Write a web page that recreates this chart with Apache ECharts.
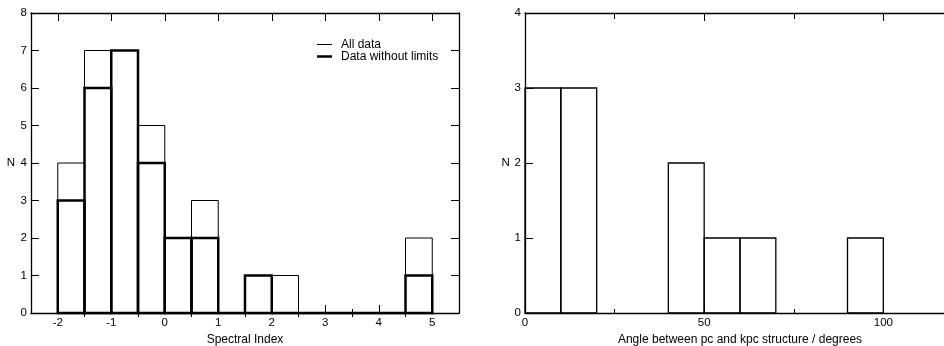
<!DOCTYPE html>
<html>
<head>
<meta charset="utf-8">
<script src="https://cdn.jsdelivr.net/npm/echarts@6/dist/echarts.min.js"></script>
<style>
  html, body { margin: 0; padding: 0; background: #fff; }
  #chart { width: 944px; height: 346px; }
</style>
</head>
<body>
<div id="chart"></div>
<script>
// left panel: spectral index histogram, bins 0.5 wide
const spectralBinStarts = [-2, -1.5, -1, -0.5, 0, 0.5, 1, 1.5, 2, 2.5, 3, 3.5, 4, 4.5];
const allData = [4, 7, 7, 5, 2, 3, 0, 1, 1, 0, 0, 0, 0, 2];
const dataWithoutLimits = [3, 6, 7, 4, 2, 2, 0, 1, 0, 0, 0, 0, 0, 1];
const spectralTicks = [-2, -1, 0, 1, 2, 3, 4, 5];
const spectralMinorTicks = [-1.5, -0.5, 0.5, 1.5, 2.5, 3.5, 4.5];

// right panel: angle histogram, bins 10 degrees wide
const angleBinStarts = [0, 10, 40, 50, 60, 90];
const angleCounts = [3, 3, 2, 1, 1, 1];

const FONT = 'Liberation Sans, Arial, sans-serif';
const txt = { color: '#000', fontFamily: FONT, fontSize: 11.5 };
const big = { color: '#000', fontFamily: FONT, fontSize: 12 };

const histItem = (binWidth, lw) => (params, api) => {
  const x0 = api.value(0);
  const n = api.value(1);
  const p0 = api.coord([x0, 0]);
  const p1 = api.coord([x0 + binWidth, n]);
  return {
    type: 'rect',
    shape: { x: p0[0], y: p1[1], width: p1[0] - p0[0], height: p0[1] - p1[1] },
    style: { fill: 'none', stroke: '#000', lineWidth: lw },
  };
};

const zip = (xs, ys) => xs.map((x, i) => [x, ys[i]]);

const line = { show: true, onZero: false, lineStyle: { color: '#000', width: 1.3 } };

const chart = echarts.init(document.getElementById('chart'));
chart.setOption({
  animation: false,
  textStyle: txt,
  grid: [
    { left: 31, top: 13, width: 428, height: 300, outerBoundsMode: 'none' },
    // the right panel runs past the edge of the picture
    { left: 525, top: 13, width: 430, height: 300, outerBoundsMode: 'none' },
  ],
  legend: [
    {
      left: 317, top: 38.5, padding: 0, itemWidth: 15, itemHeight: 1, icon: 'rect',
      data: ['All data'], textStyle: { ...big, padding: [0, 0, 0, 4] }, selectedMode: false,
    },
    {
      left: 317, top: 50.5, padding: 0, itemWidth: 15, itemHeight: 2.5, icon: 'rect',
      data: ['Data without limits'], textStyle: { ...big, padding: [0, 0, 0, 4] }, selectedMode: false,
    },
  ],
  xAxis: [
    {
      gridIndex: 0, type: 'value', min: -2.5, max: 5.5, position: 'bottom',
      name: 'Spectral Index', nameLocation: 'middle', nameGap: 11, nameTextStyle: big,
      axisLine: line,
      axisTick: { inside: true, length: 8, customValues: spectralTicks, lineStyle: { color: '#000' } },
      axisLabel: { margin: 4, customValues: spectralTicks, ...txt },
      splitLine: { show: false },
    },
    {
      gridIndex: 0, type: 'value', min: -2.5, max: 5.5, position: 'bottom',
      axisLine: { show: false },
      axisTick: { inside: true, length: 4, customValues: spectralMinorTicks, lineStyle: { color: '#000' } },
      axisLabel: { show: false }, splitLine: { show: false },
    },
    {
      gridIndex: 0, type: 'value', min: -2.5, max: 5.5, position: 'top',
      axisLine: line,
      axisTick: { inside: true, length: 8, customValues: spectralTicks, lineStyle: { color: '#000' } },
      axisLabel: { show: false }, splitLine: { show: false },
    },
    {
      gridIndex: 0, type: 'value', min: -2.5, max: 5.5, position: 'top',
      axisLine: { show: false },
      axisTick: { inside: true, length: 4, customValues: spectralMinorTicks, lineStyle: { color: '#000' } },
      axisLabel: { show: false }, splitLine: { show: false },
    },
    {
      gridIndex: 1, type: 'value', min: 0, max: 120, interval: 50, position: 'bottom',
      name: 'Angle between pc and kpc structure / degrees', nameLocation: 'middle', nameGap: 11,
      nameTextStyle: big,
      axisLine: line,
      axisTick: { inside: true, length: 8, lineStyle: { color: '#000' } },
      minorTick: { show: true, splitNumber: 2, length: 4, lineStyle: { color: '#000' } },
      axisLabel: { margin: 4, showMaxLabel: false, ...txt },
      splitLine: { show: false },
    },
    {
      gridIndex: 1, type: 'value', min: 0, max: 120, interval: 50, position: 'top',
      axisLine: line,
      axisTick: { inside: true, length: 8, lineStyle: { color: '#000' } },
      minorTick: { show: true, splitNumber: 2, length: 6, lineStyle: { color: '#000' } },
      axisLabel: { show: false }, splitLine: { show: false },
    },
  ],
  yAxis: [
    {
      gridIndex: 0, type: 'value', min: 0, max: 8, interval: 1, position: 'left',
      name: 'N', nameLocation: 'middle', nameRotate: 0, nameGap: 16, nameTextStyle: txt,
      axisLine: line,
      axisTick: { inside: true, length: 8, lineStyle: { color: '#000' } },
      axisLabel: { margin: 4, ...txt },
      splitLine: { show: false },
    },
    {
      gridIndex: 0, type: 'value', min: 0, max: 8, interval: 1, position: 'right',
      axisLine: line,
      axisTick: { inside: true, length: 8, lineStyle: { color: '#000' } },
      axisLabel: { show: false }, splitLine: { show: false },
    },
    {
      gridIndex: 1, type: 'value', min: 0, max: 4, interval: 1, position: 'left',
      name: 'N', nameLocation: 'middle', nameRotate: 0, nameGap: 15, nameTextStyle: txt,
      axisLine: line,
      axisTick: { inside: true, length: 8, lineStyle: { color: '#000' } },
      axisLabel: { margin: 4, ...txt },
      splitLine: { show: false },
    },
    {
      gridIndex: 1, type: 'value', min: 0, max: 4, interval: 1, position: 'right',
      axisLine: line,
      axisTick: { inside: true, length: 8, lineStyle: { color: '#000' } },
      axisLabel: { show: false }, splitLine: { show: false },
    },
  ],
  series: [
    {
      name: 'All data', type: 'custom', xAxisIndex: 0, yAxisIndex: 0,
      itemStyle: { color: '#000' },
      renderItem: histItem(0.5, 1),
      data: zip(spectralBinStarts, allData),
    },
    {
      name: 'Data without limits', type: 'custom', xAxisIndex: 0, yAxisIndex: 0,
      itemStyle: { color: '#000' },
      renderItem: histItem(0.5, 2.5),
      data: zip(spectralBinStarts, dataWithoutLimits),
    },
    {
      name: 'Angle', type: 'custom', xAxisIndex: 4, yAxisIndex: 2,
      itemStyle: { color: '#000' },
      renderItem: histItem(10, 1.3),
      data: zip(angleBinStarts, angleCounts),
    },
  ],
});
</script>
</body>
</html>
